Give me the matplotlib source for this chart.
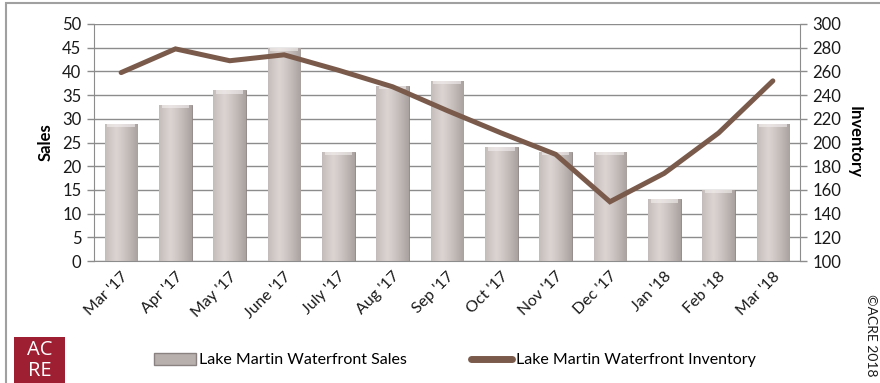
import matplotlib.pyplot as plt
import numpy as np
from matplotlib.patches import Rectangle
from matplotlib.lines import Line2D

plt.rcParams['font.family'] = ['Lato', 'DejaVu Sans']

months = ["Mar '17", "Apr '17", "May '17", "June '17", "July '17", "Aug '17", "Sep '17",
          "Oct '17", "Nov '17", "Dec '17", "Jan '18", "Feb '18", "Mar '18"]
sales = [29, 33, 36, 45, 23, 37, 38, 24, 23, 23, 13, 15, 29]
inventory = [259, 279, 269, 274, 261, 247, 227, 208, 190, 150, 174, 208, 252]

line_color = '#7a5a4b'
grid_color = '#8c8c8c'

fig = plt.figure(figsize=(8.8, 3.83), dpi=100)
ax = fig.add_axes([94 / 880, 1 - 261 / 383, (800 - 94) / 880, (261 - 24) / 383])
ax2 = ax.twinx()

x = np.arange(len(months))
bar_w = 0.6

# horizontal gradient so the bars look a bit like cylinders
grad = np.linspace(0, 1, 256)
shade = 1 - 0.55 * np.abs(grad - 0.35) ** 1.2 / 0.65 ** 1.2
c_light = np.array([0.86, 0.83, 0.82])
c_dark = np.array([0.50, 0.47, 0.46])
img = c_dark + (c_light - c_dark) * shade[:, None]
img = img[None, :, :]

bars = ax.bar(x, sales, width=bar_w, color='#b8b0ad', edgecolor='#8a8280',
              linewidth=0.6, zorder=2)
for b in bars:
    x0, w, h = b.get_x(), b.get_width(), b.get_height()
    im = ax.imshow(img, extent=[x0, x0 + w, 0, h], aspect='auto', zorder=2.5,
                   interpolation='bilinear')
    im.set_clip_path(b)
    cap = Rectangle((x0 + w * 0.08, h - 0.7), w * 0.84, 0.7, facecolor='#f4f1f0',
                    edgecolor='none', alpha=0.6, zorder=2.6)
    ax.add_patch(cap)
    cap.set_clip_path(b)

ax.set_xlim(-0.5, len(months) - 0.5)
ax.set_ylim(0, 50)
ax.set_yticks(np.arange(0, 51, 5))
ax.yaxis.grid(True, color=grid_color, linewidth=1.0, zorder=0)
ax.set_axisbelow(True)

ax2.plot(x, inventory, color=line_color, linewidth=3.6, solid_capstyle='round',
         solid_joinstyle='miter', zorder=5)
ax2.set_ylim(100, 300)
ax2.set_yticks(np.arange(100, 301, 20))

for a in (ax, ax2):
    for s in a.spines.values():
        s.set_visible(False)
    a.tick_params(axis='y', length=5, width=1, color=grid_color, labelsize=12,
                  labelcolor='#1a1a1a', pad=4)
ax.spines['left'].set_visible(True)
ax.spines['left'].set_color(grid_color)
ax.spines['bottom'].set_visible(True)
ax.spines['bottom'].set_color(grid_color)
ax2.spines['right'].set_visible(True)
ax2.spines['right'].set_color(grid_color)

ax.set_xticks(x)
ax.set_xticklabels(months, rotation=45, ha='right', rotation_mode='anchor', fontsize=11.5,
                   color='#1a1a1a')
ax.tick_params(axis='x', length=0, pad=6)

ax.set_ylabel('Sales', fontsize=12, fontweight='bold', labelpad=6)
ax2.set_ylabel('Inventory', fontsize=12, fontweight='bold', rotation=270)
ax2.yaxis.set_label_coords(1.088, 0.5)

# legend
sales_handle = Rectangle((0, 0), 1, 1, facecolor='#b8b0ad', edgecolor='#8a8280')
inv_handle = Line2D([], [], color=line_color, linewidth=5, solid_capstyle='round')
fig.legend([sales_handle, inv_handle],
           ['Lake Martin Waterfront Sales', 'Lake Martin Waterfront Inventory'],
           loc='center', bbox_to_anchor=(455 / 880, 1 - 360 / 383), ncol=2,
           frameon=False, fontsize=11.5, handlelength=2.6, handleheight=0.8,
           handletextpad=0.2, columnspacing=4.0)

# outer frame
fig.patches.append(Rectangle((6 / 880, -0.05), 2, 1.05 - 3 / 383, transform=fig.transFigure,
                             facecolor='none', edgecolor='#a0a0a0', linewidth=1.5))

# ACRE logo
fig.patches.append(Rectangle((14 / 880, 0), 51 / 880, 46 / 383, transform=fig.transFigure,
                             facecolor='#9e1f32', edgecolor='none'))
fig.text(39.5 / 880, 1 - 350 / 383, 'AC', color='white', fontsize=14.5, ha='center',
         va='center', fontweight='medium', family=['Open Sans', 'DejaVu Sans'])
fig.text(39.5 / 880, 1 - 371 / 383, 'RE', color='white', fontsize=14.5, ha='center',
         va='center', fontweight='medium', family=['Open Sans', 'DejaVu Sans'])

fig.text(871 / 880, 1 - 335 / 383, '\u00a9ACRE 2018', rotation=270, fontsize=10,
         ha='center', va='center', color='#1a1a1a')

fig.savefig('out.png', dpi=100)
